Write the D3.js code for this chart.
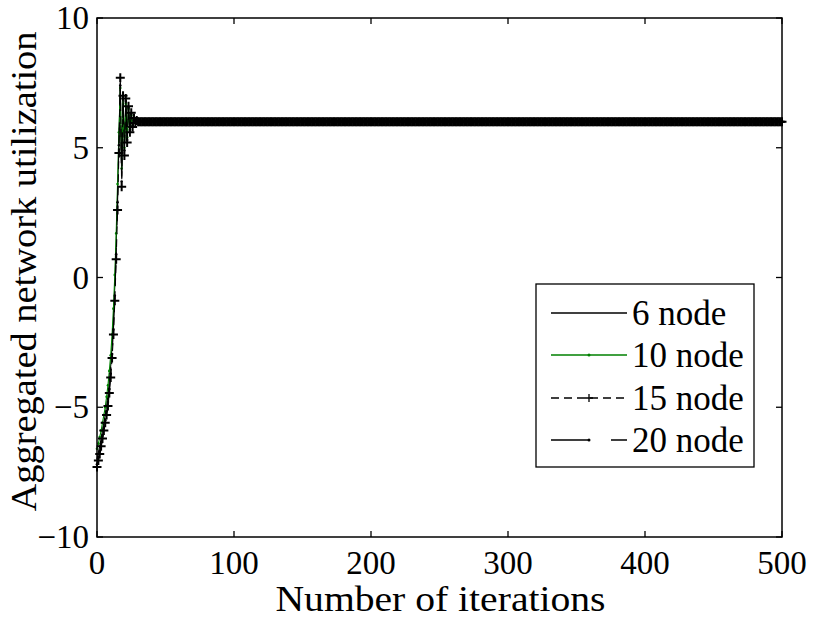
<!DOCTYPE html>
<html>
<head>
<meta charset="utf-8">
<script src="https://cdn.jsdelivr.net/npm/d3@7"></script>
<style>
  html, body { margin: 0; padding: 0; background: #fff; }
  svg { display: block; }
  text { font-family: "Liberation Serif", "Times New Roman", serif; fill: #000; }
</style>
</head>
<body>
<svg id="chart" width="814" height="620"></svg>
<script>
// Aggregated network utilization per iteration, for four network sizes.
// Each series is listed for its transient (iterations 0..29); after that it
// stays at the settled value until the last iteration.
const seriesNames = ["6 node", "10 node", "15 node", "20 node"];
const node6Transient = [-7.0, -6.75, -6.5, -6.2, -5.9, -5.6, -5.3, -4.95, -4.55, -4.0,
  -3.4, -2.6, -1.6, -0.3, 1.3, 3.2, 5.3, 7.5, 3.9, 7.0,
  4.8, 6.8, 5.3, 6.6, 5.6, 6.3, 5.8, 6.12, 5.96, 6.03];
const node10Transient = [-6.6, -6.4, -6.15, -5.9, -5.6, -5.3, -5.0, -4.6, -4.15, -3.6,
  -3.0, -2.2, -1.2, 0.1, 1.7, 3.6, 5.6, 7.3, 4.2, 6.9,
  5.0, 6.7, 5.4, 6.5, 5.7, 6.25, 5.85, 6.1, 5.97, 6.02];
const node15Transient = [-7.3, -7.05, -6.8, -6.5, -6.2, -5.9, -5.6, -5.3, -4.95, -4.45,
  -3.85, -3.1, -2.2, -0.9, 0.7, 2.6, 4.8, 7.7, 3.5, 7.0,
  4.7, 6.9, 5.2, 6.6, 5.6, 6.35, 5.8, 6.15, 5.95, 6.05];
const node20Transient = [-7.2, -6.95, -6.7, -6.4, -6.1, -5.8, -5.5, -5.15, -4.8, -4.3,
  -3.7, -2.95, -2.0, -0.7, 0.9, 2.9, 5.1, 7.4, 3.7, 6.9,
  4.9, 6.8, 5.3, 6.55, 5.65, 6.3, 5.85, 6.1, 5.97, 6.02];
const settledValue = 6.0;
const lastIteration = 500;

const xTicks = [0, 100, 200, 300, 400, 500];
const yTicks = [-10, -5, 0, 5, 10];
const xLabel = "Number of iterations";
const yLabel = "Aggregated network utilization";

// full run: transient values, then the settled value up to the last iteration
function fullRun(transient) {
  const out = transient.map((v, i) => ({ it: i, v }));
  for (let i = transient.length; i <= lastIteration; i++) out.push({ it: i, v: settledValue });
  return out;
}

const styles = [
  { color: "#000", dash: null, marker: null },
  { color: "#008000", dash: null, marker: "dot" },
  { color: "#000", dash: "8,5", marker: "plus" },
  { color: "#000", dash: "38,22", marker: "dot" }
];
const runs = [node6Transient, node10Transient, node15Transient, node20Transient].map(fullRun);

const svg = d3.select("#chart");
const m = { left: 97, right: 782, top: 18, bottom: 537 };

const x = d3.scaleLinear().domain([0, 500]).range([m.left, m.right]);
const y = d3.scaleLinear().domain([-10, 10]).range([m.bottom, m.top]);

const clipId = "plotClip";
svg.append("defs").append("clipPath").attr("id", clipId)
  .append("rect").attr("x", m.left - 6).attr("y", m.top).attr("width", m.right - m.left + 12).attr("height", m.bottom - m.top);

const line = d3.line().x(d => x(d.it)).y(d => y(d.v));
const series = svg.append("g").attr("clip-path", `url(#${clipId})`);

runs.forEach((run, k) => {
  const s = styles[k];
  series.append("path")
    .datum(run)
    .attr("d", line)
    .attr("fill", "none")
    .attr("stroke", s.color)
    .attr("stroke-width", 1.1)
    .attr("stroke-dasharray", s.dash);
  if (s.marker === "plus") {
    series.append("g").selectAll("path").data(run).join("path")
      .attr("d", d => `M${x(d.it) - 4.5},${y(d.v)}H${x(d.it) + 4.5}M${x(d.it)},${y(d.v) - 4.5}V${y(d.v) + 4.5}`)
      .attr("stroke", s.color).attr("stroke-width", 2).attr("fill", "none");
  } else if (s.marker === "dot") {
    series.append("g").selectAll("circle").data(run).join("circle")
      .attr("cx", d => x(d.it)).attr("cy", d => y(d.v)).attr("r", 1.3)
      .attr("fill", s.color);
  }
});

// axes box with inward ticks on all four sides
const axisG = svg.append("g");
axisG.append("rect")
  .attr("x", m.left).attr("y", m.top).attr("width", m.right - m.left).attr("height", m.bottom - m.top)
  .attr("fill", "none").attr("stroke", "#000").attr("stroke-width", 1.5);

const fmt = t => String(t).replace("-", "\u2212");
const tickLen = 6;
xTicks.forEach(t => {
  axisG.append("line").attr("x1", x(t)).attr("x2", x(t)).attr("y1", m.bottom).attr("y2", m.bottom - tickLen)
    .attr("stroke", "#000").attr("stroke-width", 1.3);
  axisG.append("line").attr("x1", x(t)).attr("x2", x(t)).attr("y1", m.top).attr("y2", m.top + tickLen)
    .attr("stroke", "#000").attr("stroke-width", 1.3);
  axisG.append("text").attr("x", x(t)).attr("y", 574)
    .attr("text-anchor", "middle").attr("font-size", 33).text(fmt(t));
});
yTicks.forEach(t => {
  axisG.append("line").attr("x1", m.left).attr("x2", m.left + tickLen).attr("y1", y(t)).attr("y2", y(t))
    .attr("stroke", "#000").attr("stroke-width", 1.3);
  axisG.append("line").attr("x1", m.right).attr("x2", m.right - tickLen).attr("y1", y(t)).attr("y2", y(t))
    .attr("stroke", "#000").attr("stroke-width", 1.3);
  axisG.append("text").attr("x", 89).attr("y", y(t) + 11)
    .attr("text-anchor", "end").attr("font-size", 33).text(fmt(t));
});

svg.append("text").attr("x", (m.left + m.right) / 2 + 1).attr("y", 611)
  .attr("text-anchor", "middle").attr("font-size", 35)
  .attr("textLength", 330).attr("lengthAdjust", "spacingAndGlyphs").text(xLabel);
svg.append("text")
  .attr("transform", `translate(36,${(m.top + m.bottom) / 2 - 6}) rotate(-90)`)
  .attr("text-anchor", "middle").attr("font-size", 36)
  .attr("textLength", 480).attr("lengthAdjust", "spacingAndGlyphs").text(yLabel);

// legend
const lg = svg.append("g");
lg.append("rect").attr("x", 536).attr("y", 284).attr("width", 218).attr("height", 183)
  .attr("fill", "#fff").attr("stroke", "#000").attr("stroke-width", 1.3);
const rowY = [313, 355, 398, 440];
seriesNames.forEach((name, k) => {
  const s = styles[k];
  const yy = rowY[k];
  lg.append("line").attr("x1", 551).attr("x2", 627).attr("y1", yy).attr("y2", yy)
    .attr("stroke", s.color).attr("stroke-width", 1.3).attr("stroke-dasharray", s.dash);
  if (s.marker === "plus") {
    lg.append("path").attr("d", `M585,${yy}H593M589,${yy - 4}V${yy + 4}`)
      .attr("stroke", s.color).attr("stroke-width", 1.3);
  } else if (s.marker === "dot") {
    lg.append("circle").attr("cx", 589).attr("cy", yy).attr("r", 1.5).attr("fill", s.color);
  }
  lg.append("text").attr("x", 632).attr("y", yy + 12).attr("font-size", 35).text(name);
});
</script>
</body>
</html>
